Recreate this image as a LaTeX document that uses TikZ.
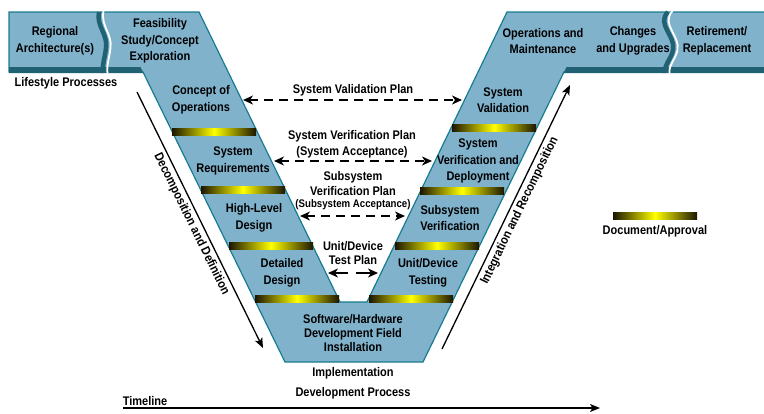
\documentclass[tikz,border=0pt]{standalone}
\usepackage{fontspec}
\setmainfont{Liberation Sans}[FakeStretch=0.88]
\usetikzlibrary{arrows.meta}
\definecolor{vblue}{RGB}{128,178,204}
\definecolor{vedge}{RGB}{24,124,144}
\definecolor{vshadow}{RGB}{32,98,116}
\definecolor{bardark}{RGB}{28,22,0}
\begin{document}
\begin{tikzpicture}[x=1pt,y=-1pt,
  lbl/.style={font=\bfseries\fontsize{12.5}{16.5}\selectfont, align=center, inner sep=0pt, text=black},
  smalllbl/.style={font=\bfseries\fontsize{11}{13}\selectfont, align=center, inner sep=0pt, text=black},
  sidelbl/.style={font=\bfseries\fontsize{12.5}{16.5}\selectfont, inner sep=0pt, text=black, sloped, below=3pt},
  docbar/.style={left color=bardark, right color=bardark, middle color=yellow},
  planarrow/.style={line width=1.7pt, dash pattern=on 9pt off 6pt,
    {Stealth[length=10pt,width=9pt,inset=3pt]}-{Stealth[length=10pt,width=9pt,inset=3pt]}},
  unitarrow/.style={line width=1.7pt, -{Stealth[length=10pt,width=9pt,inset=3pt]}},
  sidearrow/.style={line width=1.3pt, -{Stealth[length=10pt,width=8pt,inset=2.5pt]}}]
\useasboundingbox (0,0) rectangle (764,413);

% V body
\filldraw[fill=vblue, draw=vedge, line width=1.2pt]
  (9,12) -- (199,12) -- (340,302) -- (367,302) -- (507,12) -- (768,12) -- (768,72)
  -- (564,72) -- (423,362) -- (285,362) -- (143,72) -- (9,72) -- cycle;
% bottom shadow bands of the top panels
\fill[vshadow] (9,67) -- (140.5,67) -- (143.5,73) -- (9,73) -- cycle;
\fill[vshadow] (566.5,67) -- (768,67) -- (768,73) -- (563.5,73) -- cycle;
% wavy dividers
\draw[vshadow, line width=4.5pt] (99,12) .. controls (96,26) and (108,34) .. (106,48) .. controls (105,58) and (102,64) .. (103,73);
\draw[white, line width=1.8pt] (103.5,11) .. controls (100.5,26) and (112.5,34) .. (110.5,48) .. controls (109.5,58) and (106.5,64) .. (107.5,74);
\draw[vshadow, line width=4.5pt] (668,12) .. controls (656,24) and (676,36) .. (673,50) .. controls (671,60) and (664,64) .. (665,73);
\draw[white, line width=1.8pt] (672.5,11) .. controls (660.5,24) and (680.5,36) .. (677.5,50) .. controls (675.5,60) and (668.5,64) .. (669.5,74);

% document / approval bars
\shade[docbar] (172,128) rectangle +(84,7);
\shade[docbar] (201,186) rectangle +(84,7);
\shade[docbar] (229,242) rectangle +(84,7);
\shade[docbar] (255,295) rectangle +(84,7);
\shade[docbar] (452,124) rectangle +(84,7);
\shade[docbar] (420,187) rectangle +(84,7);
\shade[docbar] (395,242) rectangle +(84,7);
\shade[docbar] (369,295) rectangle +(84,7);
\shade[docbar] (613,212) rectangle +(84,7);

% stage labels
\node[lbl] (reg) at (55,41) {Regional\\Architecture(s)};
\node[lbl] (feas) at (160,41) {Feasibility\\Study/Concept\\Exploration};
\node[lbl] (coo) at (201,100) {Concept of\\Operations};
\node[lbl] (sreq) at (233,161) {System\\Requirements};
\node[lbl] (hld) at (254,218) {High-Level\\Design};
\node[lbl] (dd) at (282,273) {Detailed\\Design};
\node[lbl, font=\bfseries\fontsize{12.5}{14}\selectfont] (sw) at (353,333) {Software/Hardware\\Development Field\\Installation};
\node[lbl] (ut) at (428,273) {Unit/Device\\Testing};
\node[lbl] (ssv) at (450,218) {Subsystem\\Verification};
\node[lbl] (svd) at (478,161) {System\\Verification and\\Deployment};
\node[lbl] (sv) at (503,100) {System\\Validation};
\node[lbl] (om) at (543,41) {Operations and\\Maintenance};
\node[lbl] (cu) at (633,41) {Changes\\and Upgrades};
\node[lbl] (rr) at (717,41) {Retirement/\\Replacement};

% other labels
\node[lbl] (life) at (66,83) {Lifestyle Processes};
\node[lbl] (impl) at (353,373) {Implementation};
\node[lbl] (devp) at (353,393) {Development Process};
\node[lbl] (doc) at (655,231) {Document/Approval};
\node[lbl] (tl) at (145,401) {Timeline};

% plan labels
\node[lbl] (svpl) at (353,90) {System Validation Plan};
\node[lbl] (sverpl) at (352,136) {System Verification Plan};
\node[lbl] (sacc) at (352,152) {(System Acceptance)};
\node[lbl] (sspl1) at (353,177) {Subsystem};
\node[lbl] (sspl2) at (353,191) {Verification Plan};
\node[smalllbl] (sspl3) at (353,205) {(Subsystem Acceptance)};
\node[lbl] (udpl1) at (353,246) {Unit/Device};
\node[lbl] (udpl2) at (353,260) {Test Plan};

% plan arrow end points
\coordinate (valL) at (243,100);
\coordinate (valR) at (462,100);
\coordinate (verL) at (274,161);
\coordinate (verR) at (432,161);
\coordinate (subL) at (300,216);
\coordinate (subR) at (405,216);
\coordinate (unitL) at (328,273);
\coordinate (unitLs) at (348,273);
\coordinate (unitRs) at (356,273);
\coordinate (unitR) at (378,273);

\draw[planarrow] (valL) -- (valR);
\draw[planarrow] (verL) -- (verR);
\draw[planarrow] (subL) -- (subR);
\draw[unitarrow] (unitLs) -- (unitL);
\draw[unitarrow] (unitRs) -- (unitR);

% side arrows
\coordinate (decA) at (137,92);
\coordinate (decB) at (263,348);
\coordinate (intA) at (442,349);
\coordinate (intB) at (570,85);
\draw[sidearrow] (decA) --
  node[sidelbl, pos=0.366] (dec1) {Decomposition}
  node[sidelbl, pos=0.55] (dec2) {and}
  node[sidelbl, pos=0.684] (dec3) {Definition} (decB);
\draw[sidearrow] (intA) --
  node[sidelbl, pos=0.361] (int1) {Integration}
  node[sidelbl, pos=0.502] (int2) {and}
  node[sidelbl, pos=0.681] (int3) {Recomposition} (intB);

% timeline
\coordinate (tlA) at (123,408);
\coordinate (tlB) at (600,408);
\draw[sidearrow] (tlA) -- (tlB);
\end{tikzpicture}
\end{document}
